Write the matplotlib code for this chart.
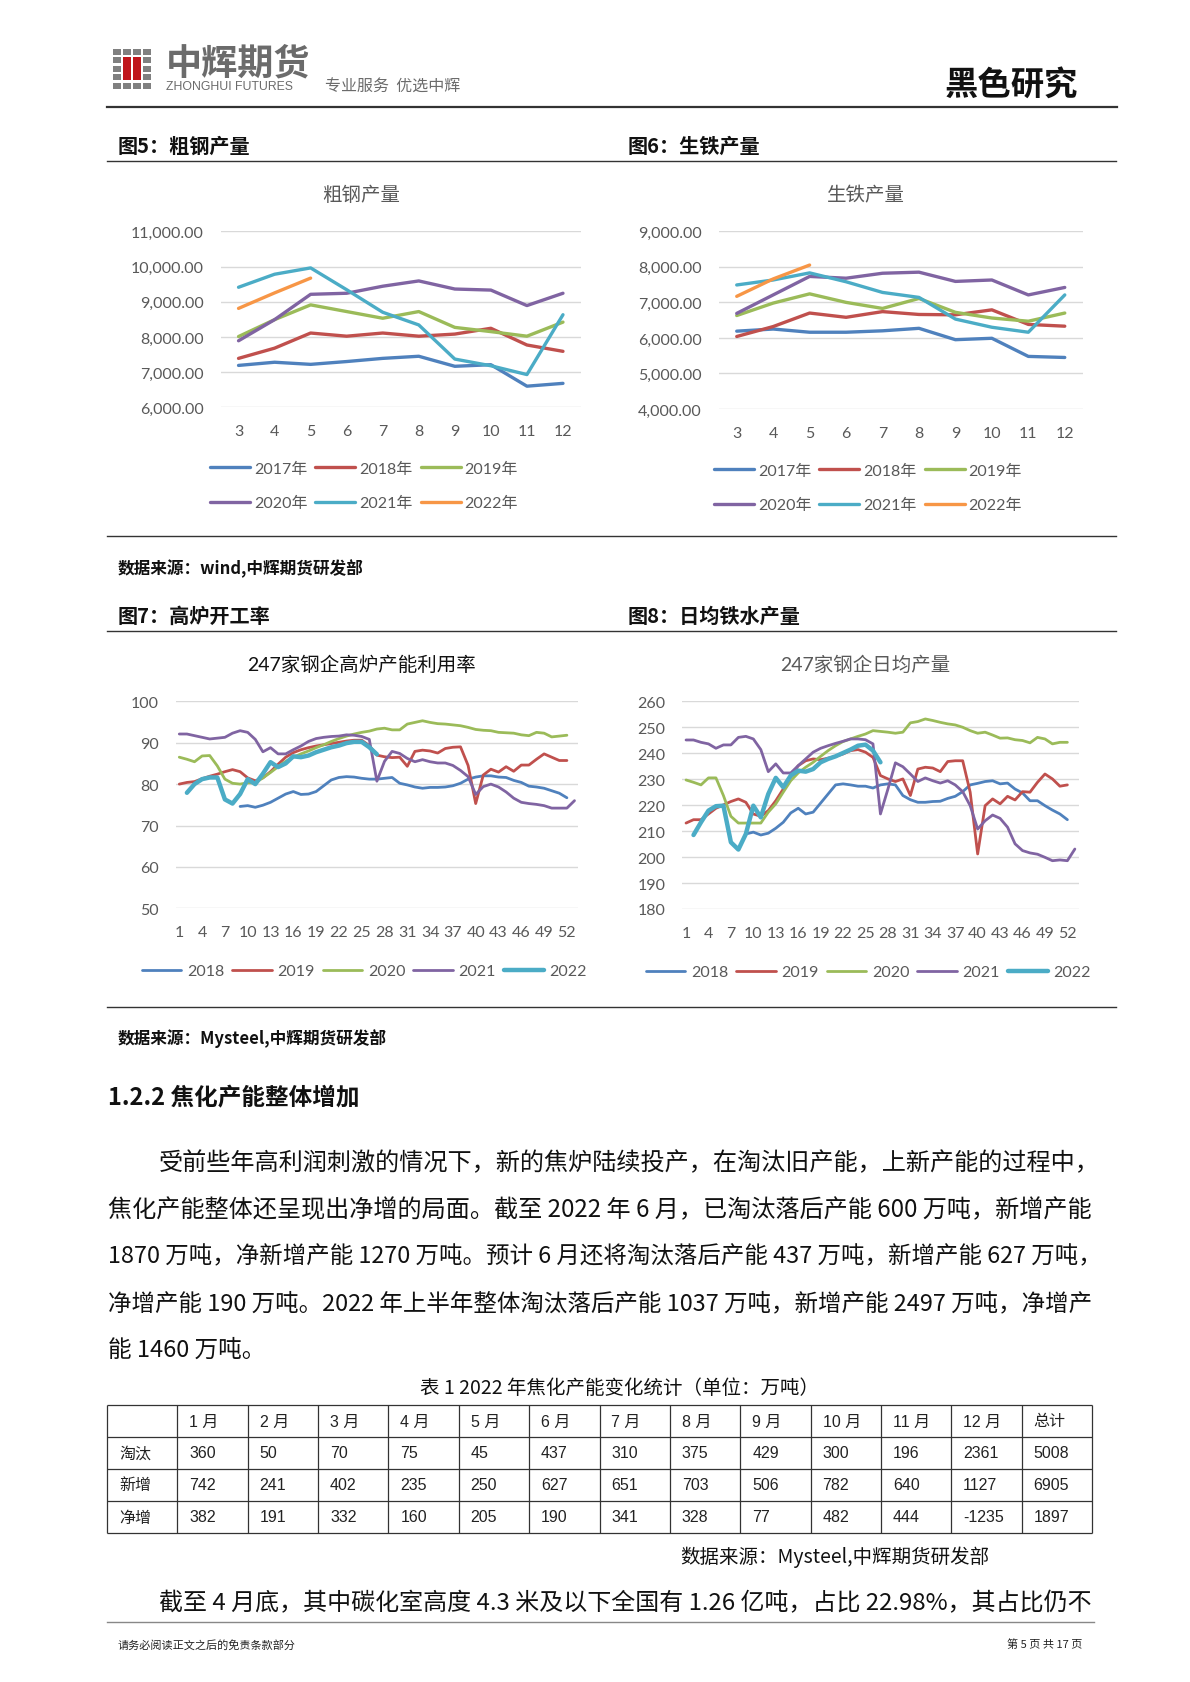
import matplotlib
matplotlib.use('Agg')
import numpy as np
import matplotlib.pyplot as plt
from matplotlib.lines import Line2D
from matplotlib.patches import Rectangle
from matplotlib import font_manager as fm

plt.rcParams['font.family'] = ['Noto Sans CJK SC', 'DejaVu Sans']
plt.rcParams['axes.unicode_minus'] = False

_names = {f.name for f in fm.fontManager.ttflist}
NUM_FONT = 'Lato' if 'Lato' in _names else 'DejaVu Sans'
CHART_FAMILY = [NUM_FONT, 'Noto Sans CJK SC', 'DejaVu Sans']
CJK = ['Noto Sans CJK SC', 'DejaVu Sans']
NARROW = 'Liberation Sans Narrow' if 'Liberation Sans Narrow' in _names else 'Liberation Sans'
TABLE_FAMILY = [NARROW, 'Noto Sans CJK SC', 'DejaVu Sans']

# ---------------- data ----------------
months = [3, 4, 5, 6, 7, 8, 9, 10, 11, 12]
month_labels = ['3', '4', '5', '6', '7', '8', '9', '10', '11', '12']
year_labels = ['2017年', '2018年', '2019年', '2020年', '2021年', '2022年']

steel_2017 = [7190, 7280, 7220, 7300, 7390, 7450, 7165, 7210, 6600, 6680]
steel_2018 = [7390, 7680, 8110, 8020, 8110, 8020, 8080, 8245, 7770, 7590]
steel_2019 = [8010, 8490, 8910, 8720, 8530, 8720, 8270, 8150, 8020, 8420]
steel_2020 = [7890, 8490, 9210, 9240, 9440, 9590, 9360, 9330, 8890, 9240]
steel_2021 = [9410, 9780, 9960, 9340, 8700, 8340, 7370, 7180, 6930, 8630]
steel_2022 = [8810, 9250, 9670]

iron_2017 = [6190, 6250, 6160, 6160, 6200, 6270, 5950, 5990, 5480, 5450]
iron_2018 = [6040, 6320, 6700, 6580, 6740, 6660, 6650, 6790, 6380, 6330]
iron_2019 = [6630, 6980, 7240, 7000, 6830, 7110, 6720, 6560, 6470, 6700]
iron_2020 = [6690, 7210, 7730, 7680, 7820, 7850, 7590, 7630, 7210, 7420]
iron_2021 = [7490, 7630, 7830, 7580, 7280, 7140, 6530, 6300, 6160, 7210]
iron_2022 = [7170, 7660, 8050]

weeks = list(range(1, 54))
week_ticks = list(range(1, 53, 3))
week_series_labels = ['2018', '2019', '2020', '2021', '2022']

util_2018 = [None] * 8 + [
    74.6, 74.8, 74.4, 74.9, 75.6, 76.6, 77.6, 78.2, 77.5, 77.6,
    78.2, 79.6, 81.0, 81.6, 81.8, 81.7, 81.4, 81.2, 81.2, 81.4,
    81.6, 80.2, 79.8, 79.3, 79.0, 79.2, 79.2, 79.3, 79.6, 80.2,
    81.2, 81.7, 82.0, 82.0, 81.7, 81.6, 80.9, 80.4, 79.5, 79.3,
    79.0, 78.4, 77.8, 76.7]
util_2019 = [
    80.0, 80.4, 80.6, 81.3, 81.9, 82.4, 83.0, 83.5, 83.0, 81.5,
    80.8, 81.5, 83.0, 84.8, 86.5, 87.6, 88.3, 88.8, 89.2, 89.5,
    89.8, 90.1, 90.4, 90.6, 90.6, 89.3, 87.0, 86.6, 86.4, 86.5,
    84.3, 87.9, 88.2, 88.0, 87.5, 88.6, 88.9, 89.0, 84.5, 75.3,
    82.2, 83.6, 82.9, 84.2, 83.1, 84.6, 84.6, 86.0, 87.3, 86.5,
    85.7, 85.7]
util_2020 = [
    86.5, 86.0, 85.4, 86.8, 86.9, 84.4, 81.2, 80.2, 80.0, 80.3,
    80.3, 81.5, 82.8, 84.2, 85.5, 86.5, 87.3, 88.0, 88.8, 89.5,
    90.3, 91.0, 91.6, 92.1, 92.5, 92.8, 93.3, 93.5, 93.1, 93.1,
    94.5, 94.9, 95.3, 94.9, 94.6, 94.5, 94.3, 94.1, 93.7, 93.2,
    93.0, 92.9, 92.5, 92.4, 92.3, 91.9, 91.7, 92.5, 92.3, 91.4,
    91.6, 91.8]
util_2021 = [
    92.1, 92.1, 91.7, 91.3, 90.9, 91.1, 91.3, 92.3, 92.9, 92.5,
    90.8, 87.8, 88.8, 87.3, 87.3, 88.3, 89.2, 90.3, 91.0, 91.3,
    91.5, 91.6, 91.9, 91.8, 91.5, 90.8, 80.7, 85.5, 87.9, 87.4,
    86.2, 85.4, 85.9, 85.4, 85.1, 85.1, 84.5, 83.3, 81.8, 77.5,
    79.4, 80.0, 79.3, 78.1, 76.6, 75.6, 75.3, 75.1, 74.8, 74.2,
    74.2, 74.2, 76.0]
util_2022 = [
    None, 77.9, 80.0, 81.2, 81.6, 81.6, 76.3, 75.3, 77.6, 81.2,
    80.0, 82.5, 85.3, 84.1, 85.0, 86.7, 86.5, 86.9, 87.7, 88.3,
    88.9, 89.3, 89.9, 90.2, 90.2, 88.9, 87.2]

prod_2018 = [None] * 8 + [
    208.9, 209.6, 208.5, 209.2, 211.1, 213.4, 217.0, 218.8, 216.6, 217.3,
    220.8, 224.3, 227.8, 228.2, 227.8, 227.3, 227.3, 226.6, 227.8, 228.2,
    227.8, 223.7, 222.1, 221.1, 221.1, 221.4, 221.5, 222.6, 223.4, 225.2,
    227.8, 228.4, 229.1, 229.4, 228.2, 228.5, 226.2, 224.7, 221.7, 221.7,
    219.8, 218.1, 216.6, 214.4]
prod_2019 = [
    213.1, 214.4, 214.4, 216.6, 218.8, 220.1, 221.4, 222.4, 221.1, 216.6,
    215.7, 217.9, 221.7, 226.2, 231.1, 235.2, 237.1, 237.8, 237.5, 238.1,
    238.8, 239.7, 241.0, 241.4, 240.4, 238.4, 231.4, 230.1, 229.1, 230.1,
    223.7, 233.9, 234.6, 234.3, 232.9, 236.8, 237.1, 237.1, 225.0, 201.2,
    219.8, 222.4, 220.5, 223.4, 222.0, 225.2, 225.0, 228.8, 232.0, 230.1,
    227.3, 227.8]
prod_2020 = [
    229.7, 228.8, 227.8, 230.5, 230.5, 223.7, 215.7, 213.1, 213.1, 213.1,
    213.1, 217.3, 220.5, 225.0, 229.4, 232.4, 234.6, 236.5, 238.8, 241.0,
    242.9, 244.5, 245.5, 246.5, 247.4, 248.7, 248.4, 248.1, 247.7, 248.1,
    251.7, 252.2, 253.2, 252.6, 251.9, 251.3, 250.9, 250.0, 248.7, 247.7,
    248.1, 247.0, 245.8, 245.9, 245.2, 244.9, 244.0, 246.1, 245.5, 243.6,
    244.2, 244.2]
prod_2021 = [
    245.1, 245.1, 244.2, 243.6, 241.9, 243.2, 243.2, 246.1, 246.5, 245.5,
    241.4, 232.9, 235.9, 232.4, 232.4, 235.2, 237.8, 240.4, 241.9, 242.9,
    243.8, 244.6, 245.5, 245.5, 245.2, 243.6, 216.6, 226.2, 236.3, 234.8,
    232.0, 229.1, 230.5, 229.4, 228.5, 229.4, 227.8, 225.2, 219.8, 210.8,
    214.0, 216.2, 214.9, 211.5, 205.1, 202.5, 201.6, 201.1, 199.9, 198.6,
    198.9, 198.6, 203.1]
prod_2022 = [
    None, 208.5, 213.4, 217.9, 219.6, 219.8, 205.7, 202.9, 208.9, 219.8,
    215.3, 224.3, 230.5, 226.9, 231.4, 233.3, 232.9, 233.9, 236.5, 237.8,
    238.8, 240.1, 241.4, 242.9, 243.3, 241.0, 236.5]

table_cols = ['1 月', '2 月', '3 月', '4 月', '5 月', '6 月', '7 月', '8 月',
              '9 月', '10 月', '11 月', '12 月', '总计']
table_rows = ['淘汰', '新增', '净增']
cut_cap = [360, 50, 70, 75, 45, 437, 310, 375, 429, 300, 196, 2361, 5008]
new_cap = [742, 241, 402, 235, 250, 627, 651, 703, 506, 782, 640, 1127, 6905]
net_cap = [382, 191, 332, 160, 205, 190, 341, 328, 77, 482, 444, -1235, 1897]

# ---------------- styling ----------------
BLUE, RED, GREEN = '#4F81BD', '#C0504D', '#9BBB59'
PURPLE, CYAN, ORANGE = '#8064A2', '#4BACC6', '#F79646'
GRAY = '#595959'
GRID = '#D9D9D9'

W, H = 1190, 1683
fig = plt.figure(figsize=(W / 100, H / 100), dpi=100)
fig.patch.set_facecolor('white')


def X(x):
    return x / W


def Y(y):
    return 1 - y / H


def axes_px(l, t, r, b):
    return fig.add_axes([X(l), Y(b), (r - l) / W, (b - t) / H])


def hline(x0, x1, y, color='#222222', lw=1.0):
    fig.add_artist(Line2D([X(x0), X(x1)], [Y(y), Y(y)], transform=fig.transFigure,
                          color=color, lw=lw))


def ftext(x, y, s, **kw):
    kw.setdefault('va', 'center')
    kw.setdefault('ha', 'left')
    return fig.text(X(x), Y(y), s, **kw)


def arr(v):
    return np.array([np.nan if a is None else a for a in v], dtype=float)


def style_axes(ax, ylim, yticks, yfmt, xlim, xticks, xlabels):
    ax.set_xlim(*xlim)
    ax.set_ylim(*ylim)
    ax.set_yticks(yticks)
    ax.set_yticklabels([yfmt(v) for v in yticks])
    ax.set_xticks(xticks)
    ax.set_xticklabels(xlabels)
    for s in ax.spines.values():
        s.set_visible(False)
    ax.grid(axis='y', color=GRID, lw=1.0)
    ax.set_axisbelow(True)
    ax.tick_params(length=0, pad=12, labelsize=11.5, labelcolor=GRAY)
    for lab in ax.get_xticklabels() + ax.get_yticklabels():
        lab.set_family(CHART_FAMILY)
    ax.patch.set_alpha(0)


def legend(ax, cx, cy, ncol, fs, hl, htp, cs, ls, nrows=1):
    handles, labels = ax.get_legend_handles_labels()
    if nrows > 1:
        # row-major order like Excel: reorder for matplotlib's column-major fill
        order = [r * ncol + c for c in range(ncol) for r in range(nrows)
                 if r * ncol + c < len(handles)]
        handles = [handles[i] for i in order]
        labels = [labels[i] for i in order]
    leg = ax.legend(handles, labels, loc='center', bbox_to_anchor=(X(cx), Y(cy)),
                    bbox_transform=fig.transFigure, ncol=ncol, frameon=False,
                    prop={'family': CHART_FAMILY, 'size': fs},
                    handlelength=hl, handletextpad=htp, columnspacing=cs,
                    labelspacing=ls, borderpad=0, borderaxespad=0)
    for t in leg.get_texts():
        t.set_color(GRAY)
    return leg


LKW = dict(solid_capstyle='round', solid_joinstyle='round')

# ---------------- header ----------------
for r in range(5):
    for c in range(4):
        red = (c in (1, 2)) and (1 <= r <= 3)
        if red:
            continue
        x0 = 113 + c * 10
        y0 = 50 + r * 8.4
        fig.add_artist(Rectangle((X(x0), Y(y0 + 6)), 8 / W, 6 / H,
                                 transform=fig.transFigure, color='#808080', lw=0))
for c in (1, 2):
    x0 = 113 + c * 10
    fig.add_artist(Rectangle((X(x0), Y(50 + 8.4 + 8.4 * 2 + 6)), 8 / W, (8.4 * 2 + 6) / H,
                             transform=fig.transFigure, color='#C0161C', lw=0))
ftext(166, 64, '中辉期货', fontsize=26, fontweight='bold', color='#6b6b6b', family=CJK)
ftext(166, 87, 'ZHONGHUI FUTURES', fontsize=8.8, color='#6b6b6b', family=['Liberation Sans'])
ftext(325, 87, '专业服务  优选中辉', fontsize=11.5, color='#6b6b6b', family=CJK, style='italic')
ftext(1078, 85, '黑色研究', fontsize=24, fontweight='bold', color='#111111', family=CJK, ha='right')
hline(107, 1117, 108, color='#333333', lw=1.6)

# ---------------- figure captions row 1 ----------------
ftext(118, 146, '图5：粗钢产量', fontsize=14.5, fontweight='bold', color='#111111', family=CJK)
ftext(628, 146, '图6：生铁产量', fontsize=14.5, fontweight='bold', color='#111111', family=CJK)
hline(107, 1116, 162, color='#333333', lw=1.0)

# ---------------- chart 1: crude steel ----------------
ax1 = axes_px(220.5, 232.3, 581, 408.3)
for vals, col, lab in zip([steel_2017, steel_2018, steel_2019, steel_2020, steel_2021, steel_2022],
                          [BLUE, RED, GREEN, PURPLE, CYAN, ORANGE], year_labels):
    ax1.plot(months[:len(vals)], vals, color=col, lw=2.4, label=lab, **LKW)
style_axes(ax1, (6000, 11000), list(range(6000, 11001, 1000)), lambda v: f'{v:,.2f}',
           (2.5, 12.5), months, month_labels)
ftext(361, 195, '粗钢产量', fontsize=14, color=GRAY, family=CHART_FAMILY, ha='center')
legend(ax1, 364, 487, 3, 11.5, 2.5, 0.25, 0.5, 1.25, nrows=2)

# ---------------- chart 2: pig iron ----------------
ax2 = axes_px(718.5, 232.3, 1083, 410)
for vals, col, lab in zip([iron_2017, iron_2018, iron_2019, iron_2020, iron_2021, iron_2022],
                          [BLUE, RED, GREEN, PURPLE, CYAN, ORANGE], year_labels):
    ax2.plot(months[:len(vals)], vals, color=col, lw=2.4, label=lab, **LKW)
style_axes(ax2, (4000, 9000), list(range(4000, 9001, 1000)), lambda v: f'{v:,.2f}',
           (2.5, 12.5), months, month_labels)
ftext(866, 195, '生铁产量', fontsize=14, color=GRAY, family=CHART_FAMILY, ha='center')
legend(ax2, 868, 489, 3, 11.5, 2.5, 0.25, 0.5, 1.25, nrows=2)

hline(107, 1116, 537, color='#333333', lw=1.0)
ftext(118, 569, '数据来源：wind,中辉期货研发部', fontsize=12, fontweight='bold', color='#111111', family=CJK)

# ---------------- figure captions row 2 ----------------
ftext(118, 616, '图7：高炉开工率', fontsize=14.5, fontweight='bold', color='#111111', family=CJK)
ftext(628, 616, '图8：日均铁水产量', fontsize=14.5, fontweight='bold', color='#111111', family=CJK)
hline(107, 1116, 632, color='#333333', lw=1.0)

wk_labels = [str(w) for w in week_ticks]

# ---------------- chart 3: BF utilisation ----------------
ax3 = axes_px(175.5, 702.3, 578.3, 909.3)
for vals, col, lab, lw in zip([util_2018, util_2019, util_2020, util_2021, util_2022],
                              [BLUE, RED, GREEN, PURPLE, CYAN], week_series_labels,
                              [2.0, 2.0, 2.0, 2.0, 3.2]):
    v = arr(vals)
    ax3.plot(weeks[:len(v)], v, color=col, lw=lw, label=lab, **LKW)
style_axes(ax3, (50, 100), list(range(50, 101, 10)), lambda v: f'{v:d}',
           (0.5, 53.5), week_ticks, wk_labels)
ftext(362, 665, '247家钢企高炉产能利用率', fontsize=14, color='#111111', family=CHART_FAMILY, ha='center')
legend(ax3, 364, 972, 5, 11.5, 2.5, 0.33, 0.5, 0.5)

# ---------------- chart 4: daily hot metal ----------------
ax4 = axes_px(682.3, 702.3, 1078.6, 910)
for vals, col, lab, lw in zip([prod_2018, prod_2019, prod_2020, prod_2021, prod_2022],
                              [BLUE, RED, GREEN, PURPLE, CYAN], week_series_labels,
                              [2.0, 2.0, 2.0, 2.0, 3.2]):
    v = arr(vals)
    ax4.plot(weeks[:len(v)], v, color=col, lw=lw, label=lab, **LKW)
style_axes(ax4, (180, 260), list(range(180, 261, 10)), lambda v: f'{v:d}',
           (0.5, 53.5), week_ticks, wk_labels)
ftext(865, 665, '247家钢企日均产量', fontsize=14, color=GRAY, family=CHART_FAMILY, ha='center')
legend(ax4, 868, 973, 5, 11.5, 2.5, 0.33, 0.5, 0.5)

hline(107, 1116, 1008, color='#333333', lw=1.0)
ftext(118, 1039, '数据来源：Mysteel,中辉期货研发部', fontsize=12, fontweight='bold', color='#111111', family=CJK)

# ---------------- section text ----------------
ftext(108, 1098, '1.2.2 焦化产能整体增加', fontsize=17, fontweight='bold', color='#111111', family=CJK)

renderer = fig.canvas.get_renderer()


def fit_line(x, y, s, right, fs=17.0):
    t = ftext(x, y, s, fontsize=fs, color='#111111', family=CJK)
    if right is not None:
        w = t.get_window_extent(renderer=renderer).width
        scale = (right - x) / w
        scale = min(max(scale, 0.9), 1.1)
        t.set_fontsize(fs * scale)
    return t


para = [
    (159, 1163, '受前些年高利润刺激的情况下，新的焦炉陆续投产，在淘汰旧产能，上新产能的过程中，'),
    (108, 1210, '焦化产能整体还呈现出净增的局面。截至 2022 年 6 月，已淘汰落后产能 600 万吨，新增产能'),
    (108, 1257, '1870 万吨，净新增产能 1270 万吨。预计 6 月还将淘汰落后产能 437 万吨，新增产能 627 万吨，'),
    (108, 1304, '净增产能 190 万吨。2022 年上半年整体淘汰落后产能 1037 万吨，新增产能 2497 万吨，净增产'),
]
for x, y, s in para:
    fit_line(x, y, s, 1101 if s.endswith('，') else 1092)
fit_line(108, 1350, '能 1460 万吨。', None)

# ---------------- table ----------------
ftext(619, 1389, '表 1 2022 年焦化产能变化统计（单位：万吨）', fontsize=14, color='#111111',
      family=CJK, ha='center')
axt = axes_px(107, 1406, 1092, 1534)
ncols = len(table_cols) + 1
nrows = len(table_rows) + 1
axt.set_xlim(0, ncols)
axt.set_ylim(nrows, 0)
axt.axis('off')
axt.hlines(range(nrows + 1), 0, ncols, color='#333333', lw=0.9, clip_on=False)
axt.vlines(range(ncols + 1), 0, nrows, color='#333333', lw=0.9, clip_on=False)
tkw = dict(va='center', ha='left', fontsize=11.5, color='#222222', family=TABLE_FAMILY)
for j, lab in enumerate(table_cols):
    axt.text(j + 1 + 0.17, 0.5, lab, **tkw)
for i, (rlab, vals) in enumerate(zip(table_rows, [cut_cap, new_cap, net_cap])):
    axt.text(0.17, i + 1.5, rlab, **tkw)
    for j, v in enumerate(vals):
        axt.text(j + 1 + 0.17, i + 1.5, f'{v}', **tkw)

ftext(989, 1557, '数据来源：Mysteel,中辉期货研发部', fontsize=14, color='#111111', family=CJK, ha='right')

fit_line(159, 1604, '截至 4 月底，其中碳化室高度 4.3 米及以下全国有 1.26 亿吨，占比 22.98%，其占比仍不', 1092)

# ---------------- footer ----------------
hline(107, 1094, 1623, color='#888888', lw=1.0)
ftext(118, 1645, '请务必阅读正文之后的免责条款部分', fontsize=8, color='#222222', family=CJK)
ftext(1082, 1645, '第 5 页 共 17 页', fontsize=8, color='#222222', family=CJK, ha='right')

fig.savefig('out.png', dpi=100, facecolor='white')
